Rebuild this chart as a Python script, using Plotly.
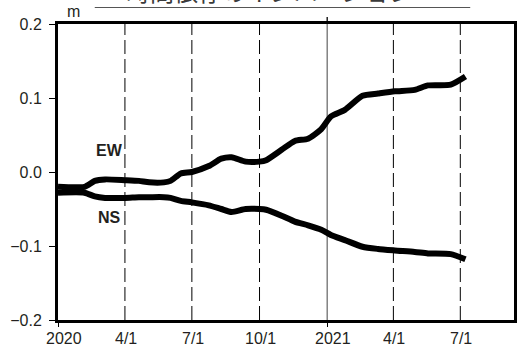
import plotly.graph_objects as go

# Displacement time series (m)
dates = [
    "2020-01-01", "2020-02-06", "2020-02-20", "2020-03-05", "2020-04-01",
    "2020-04-20", "2020-05-04", "2020-05-24", "2020-06-02", "2020-06-16",
    "2020-07-01", "2020-07-24", "2020-08-10", "2020-08-24", "2020-09-12",
    "2020-10-01", "2020-10-10", "2020-10-31", "2020-11-18", "2020-12-06",
    "2020-12-24", "2021-01-06", "2021-01-25", "2021-02-18", "2021-03-11",
    "2021-04-03", "2021-04-30", "2021-05-18", "2021-06-18", "2021-07-08",
]
ew = [
    -0.020, -0.020, -0.012, -0.010, -0.011,
    -0.012, -0.014, -0.014, -0.012, -0.002,
    0.000, 0.008, 0.018, 0.020, 0.014,
    0.014, 0.016, 0.030, 0.042, 0.045,
    0.058, 0.075, 0.084, 0.103, 0.106,
    0.109, 0.111, 0.117, 0.118, 0.129,
]
ns = [
    -0.028, -0.028, -0.033, -0.035, -0.035,
    -0.034, -0.034, -0.034, -0.035, -0.039,
    -0.041, -0.045, -0.050, -0.054, -0.050,
    -0.050, -0.051, -0.059, -0.067, -0.072,
    -0.078, -0.085, -0.092, -0.101, -0.104,
    -0.106, -0.108, -0.110, -0.111, -0.118,
]

x_tick_vals = ["2020-01-01", "2020-04-01", "2020-07-01", "2020-10-01",
               "2021-01-01", "2021-04-01", "2021-07-01"]
x_tick_text = ["2020", "4/1", "7/1", "10/1", "2021", "4/1", "7/1"]
y_tick_vals = [0.2, 0.1, 0.0, -0.1, -0.2]
y_tick_text = ["0.2", "0.1", "0.0", "\u22120.1", "\u22120.2"]

title_text = "時間依存のインバージョン"
series_labels = [("EW", "2020-03-11", 0.0285), ("NS", "2020-03-11", -0.061)]

x_range = ["2020-01-01", "2021-09-12"]
y_range = [-0.2, 0.2]

INK = "#231f20"
FONT = "Liberation Sans, Arial, sans-serif"

fig = go.Figure()
for vals in (ew, ns):
    fig.add_trace(go.Scatter(
        x=dates, y=vals, mode="lines",
        line=dict(color="black", width=6, shape="spline", smoothing=0.6),
        hoverinfo="skip", showlegend=False,
    ))


def is_year(label):
    return "/" not in label


year_ticks = [v for v, t in zip(x_tick_vals, x_tick_text) if is_year(t)]

shapes = []
for v, t in zip(x_tick_vals, x_tick_text):
    if v == x_range[0]:
        continue
    if is_year(t):
        shapes.append(dict(type="line", xref="x", yref="paper", x0=v, x1=v,
                           y0=0, y1=1, layer="below",
                           line=dict(color="#6e6e6e", width=1.3)))
        # short tick above the frame
        shapes.append(dict(type="line", xref="x", yref="paper", x0=v, x1=v,
                           ysizemode="pixel", yanchor=1, y0=0, y1=7,
                           line=dict(color="black", width=1.3)))
    else:
        shapes.append(dict(type="line", xref="x", yref="paper", x0=v, x1=v,
                           y0=0, y1=1, layer="below",
                           line=dict(color="black", width=1, dash="14px,5px")))

# rule under the heading
shapes.append(dict(type="line", xref="paper", yref="paper",
                   x0=0.0806, x1=0.904, y0=1.0557, y1=1.0557,
                   line=dict(color="#555555", width=1)))

annotations = []
for v, t in zip(x_tick_vals, x_tick_text):
    annotations.append(dict(
        x=v, y=0, xref="x", yref="paper", text=t, showarrow=False,
        xanchor="center", yanchor="top", yshift=-8,
        xshift=6 if is_year(t) else 1,
        font=dict(family=FONT, size=16, color=INK),
    ))
for name, d, val in series_labels:
    annotations.append(dict(
        x=d, y=val, xref="x", yref="y", text=f"<b>{name}</b>",
        showarrow=False, xanchor="center", yanchor="middle",
        font=dict(family=FONT, size=16, color=INK),
    ))
annotations.append(dict(
    x=0.035, y=1, xref="paper", yref="paper", text="m", showarrow=False,
    xanchor="center", yanchor="bottom", yshift=2,
    font=dict(family=FONT, size=16, color=INK),
))
annotations.append(dict(
    x=0.464, y=1, xref="paper", yref="paper", text=title_text,
    showarrow=False, xanchor="center", yanchor="bottom", yshift=14,
    font=dict(family="Noto Sans CJK JP", size=24, color="#3a3a3a"),
))

fig.update_layout(
    width=519, height=350,
    margin=dict(l=58, r=2, t=24, b=30),
    paper_bgcolor="white", plot_bgcolor="white",
    shapes=shapes, annotations=annotations,
    xaxis=dict(
        type="date", range=x_range, tickvals=year_ticks,
        showticklabels=False, ticks="outside", ticklen=4, tickwidth=1.3,
        tickcolor="black", showgrid=False, zeroline=False,
        showline=True, mirror=True, linecolor="black", linewidth=3,
    ),
    yaxis=dict(
        range=y_range, tickvals=y_tick_vals, ticktext=y_tick_text,
        ticks="outside", ticklen=6, tickwidth=1.3, tickcolor="black",
        ticklabelstandoff=4,
        tickfont=dict(family=FONT, size=16, color=INK),
        showgrid=False, zeroline=False,
        showline=True, mirror=True, linecolor="black", linewidth=3,
    ),
)

fig.write_html("out.html")
